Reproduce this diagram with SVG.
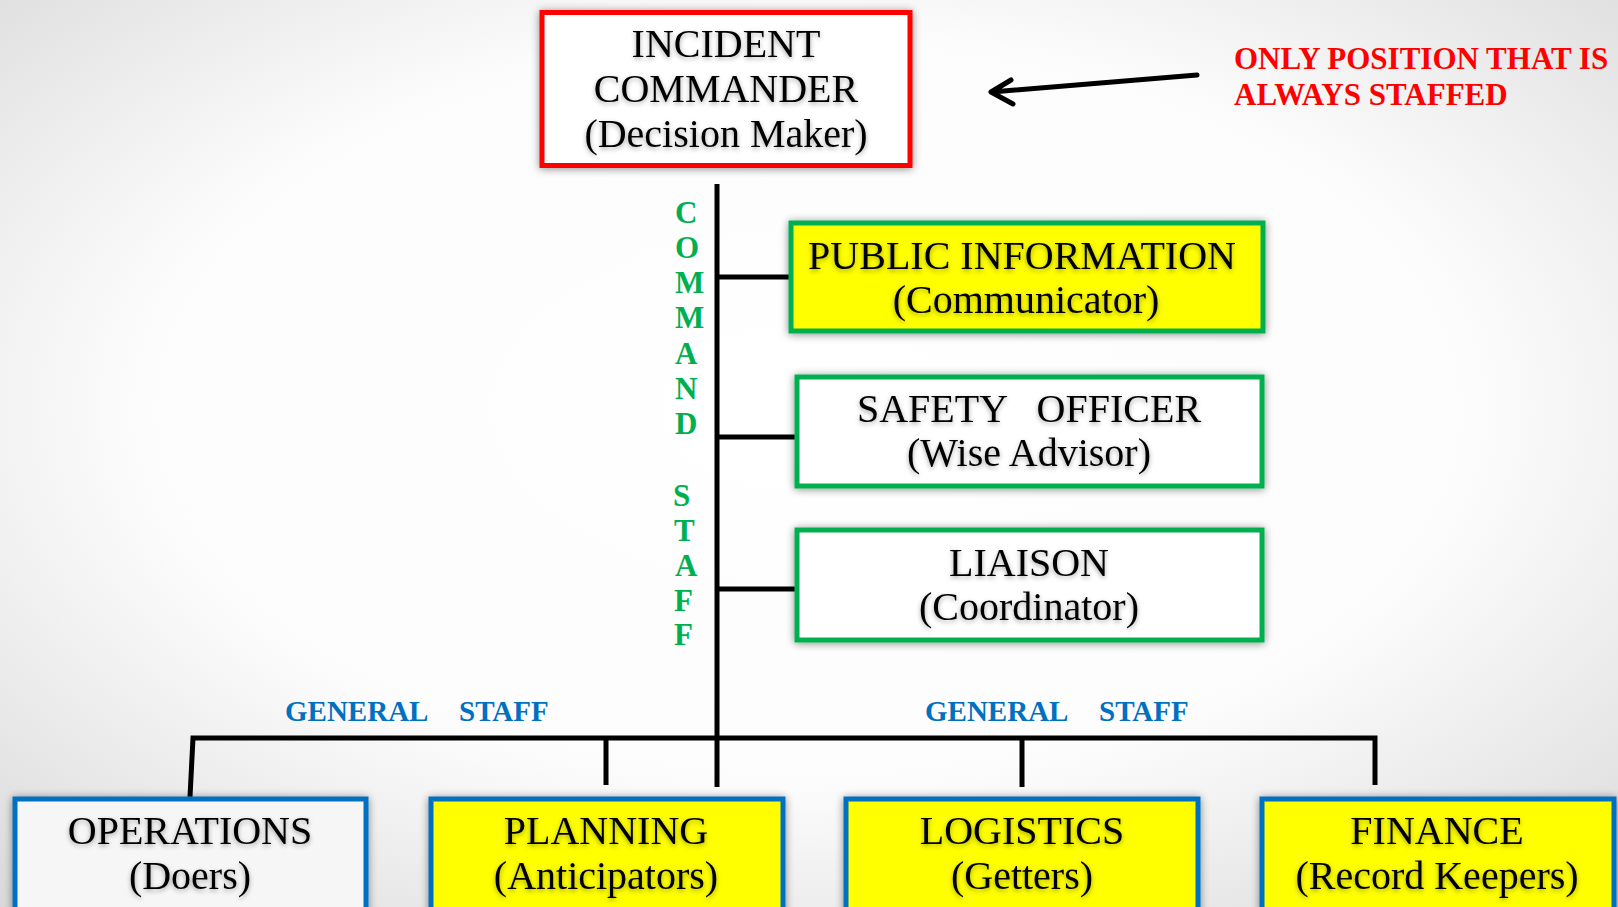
<svg xmlns="http://www.w3.org/2000/svg" width="1618" height="907" viewBox="0 0 1618 907">
<defs>
<radialGradient id="bg" cx="50%" cy="45%" r="75%">
<stop offset="0" stop-color="#ffffff"/>
<stop offset="0.55" stop-color="#fcfcfc"/>
<stop offset="1" stop-color="#d8d8d8"/>
</radialGradient>
<filter id="bs" x="-10%" y="-30%" width="120%" height="160%">
<feGaussianBlur in="SourceAlpha" stdDeviation="4"/>
<feOffset dy="1"/>
<feComponentTransfer><feFuncA type="linear" slope="0.45"/></feComponentTransfer>
<feMerge><feMergeNode/><feMergeNode in="SourceGraphic"/></feMerge>
</filter>
<filter id="ts" x="-10%" y="-30%" width="120%" height="160%">
<feGaussianBlur in="SourceAlpha" stdDeviation="2.5"/>
<feOffset dy="2"/>
<feComponentTransfer><feFuncA type="linear" slope="0.35"/></feComponentTransfer>
<feMerge><feMergeNode/><feMergeNode in="SourceGraphic"/></feMerge>
</filter>
</defs>
<style>
.lbl{font-family:"Liberation Serif","Times New Roman",serif;font-size:40px;fill:#000;text-anchor:middle;}
.red{stroke:#ff0000;stroke-width:5;fill:#ffffff;}
.grn{stroke:#00b050;stroke-width:5;}
.blu{stroke:#0070c0;stroke-width:5;}
.yel{fill:#ffff00;}
.wht{fill:#ffffff;}
.con{stroke:#000;stroke-width:5;fill:none;stroke-linecap:butt;}
.cmd{font-family:"Liberation Serif","Times New Roman",serif;font-weight:bold;font-size:31px;fill:#00b050;}
.gen{font-family:"Liberation Serif","Times New Roman",serif;font-weight:bold;font-size:29px;fill:#0070c0;}
.note{font-family:"Liberation Serif","Times New Roman",serif;font-weight:bold;font-size:31px;fill:#ff0000;}
</style>
<rect x="0" y="0" width="1618" height="907" fill="url(#bg)"/>

<g id="connectors">
<line class="con" x1="717" y1="184" x2="717" y2="787"/>
<line class="con" x1="717" y1="277" x2="792" y2="277"/>
<line class="con" x1="717" y1="437" x2="798" y2="437"/>
<line class="con" x1="717" y1="589" x2="798" y2="589"/>
<polyline class="con" points="190,797 193,738 1375,738 1375,785"/>
<line class="con" x1="606" y1="738" x2="606" y2="785"/>
<line class="con" x1="1022" y1="738" x2="1022" y2="787"/>
<path d="M1197,75 L992,92 M1011,80 L991,92 L1013,104" fill="none" stroke="#000" stroke-width="5" stroke-linecap="round" stroke-linejoin="round"/>
</g>

<g id="incident-commander">
<rect class="red" x="542" y="12.5" width="368" height="153" filter="url(#bs)"/>
<g filter="url(#ts)">
<text class="lbl" x="726" y="57">INCIDENT</text>
<text class="lbl" x="726" y="102">COMMANDER</text>
<text class="lbl" x="726" y="147">(Decision Maker)</text>
</g>
</g>

<g id="note">
<text class="note" x="1234" y="69">ONLY POSITION THAT IS</text>
<text class="note" x="1234" y="105">ALWAYS STAFFED</text>
</g>

<g id="command-staff-label">
<text class="cmd" x="675" y="223">C</text>
<text class="cmd" x="675" y="258">O</text>
<text class="cmd" x="675" y="293">M</text>
<text class="cmd" x="675" y="328">M</text>
<text class="cmd" x="675" y="364">A</text>
<text class="cmd" x="675" y="399">N</text>
<text class="cmd" x="675" y="434">D</text>
<text class="cmd" x="673" y="506">S</text>
<text class="cmd" x="674" y="541">T</text>
<text class="cmd" x="675" y="576">A</text>
<text class="cmd" x="674" y="611">F</text>
<text class="cmd" x="674" y="645">F</text>
</g>

<g id="public-information">
<rect class="grn yel" x="791" y="223" width="472" height="108" filter="url(#bs)"/>
<g filter="url(#ts)">
<text class="lbl" x="1022" y="269">PUBLIC INFORMATION</text>
<text class="lbl" x="1026" y="313">(Communicator)</text>
</g>
</g>

<g id="safety-officer">
<rect class="grn wht" x="797" y="377" width="465" height="109" filter="url(#bs)"/>
<g filter="url(#ts)">
<text class="lbl" x="1029" y="422" xml:space="preserve">SAFETY   OFFICER</text>
<text class="lbl" x="1029" y="466">(Wise Advisor)</text>
</g>
</g>

<g id="liaison">
<rect class="grn wht" x="797" y="530" width="465" height="110" filter="url(#bs)"/>
<g filter="url(#ts)">
<text class="lbl" x="1029" y="576">LIAISON</text>
<text class="lbl" x="1029" y="620">(Coordinator)</text>
</g>
</g>

<g id="general-staff-labels">
<text class="gen" x="285" y="721">GENERAL</text>
<text class="gen" x="459" y="721">STAFF</text>
<text class="gen" x="925" y="721">GENERAL</text>
<text class="gen" x="1099" y="721">STAFF</text>
</g>

<g id="operations">
<rect class="blu" fill="#f6f6f6" x="15" y="799" width="351" height="140" filter="url(#bs)"/>
<g filter="url(#ts)">
<text class="lbl" x="190" y="844">OPERATIONS</text>
<text class="lbl" x="190" y="889">(Doers)</text>
</g>
</g>

<g id="planning">
<rect class="blu yel" x="431" y="799" width="352" height="140" filter="url(#bs)"/>
<g filter="url(#ts)">
<text class="lbl" x="606" y="844">PLANNING</text>
<text class="lbl" x="606" y="889">(Anticipators)</text>
</g>
</g>

<g id="logistics">
<rect class="blu yel" x="846" y="799" width="352" height="140" filter="url(#bs)"/>
<g filter="url(#ts)">
<text class="lbl" x="1022" y="844">LOGISTICS</text>
<text class="lbl" x="1022" y="889">(Getters)</text>
</g>
</g>

<g id="finance">
<rect class="blu yel" x="1262" y="799" width="352" height="140" filter="url(#bs)"/>
<g filter="url(#ts)">
<text class="lbl" x="1437" y="844">FINANCE</text>
<text class="lbl" x="1437" y="889">(Record Keepers)</text>
</g>
</g>
</svg>
